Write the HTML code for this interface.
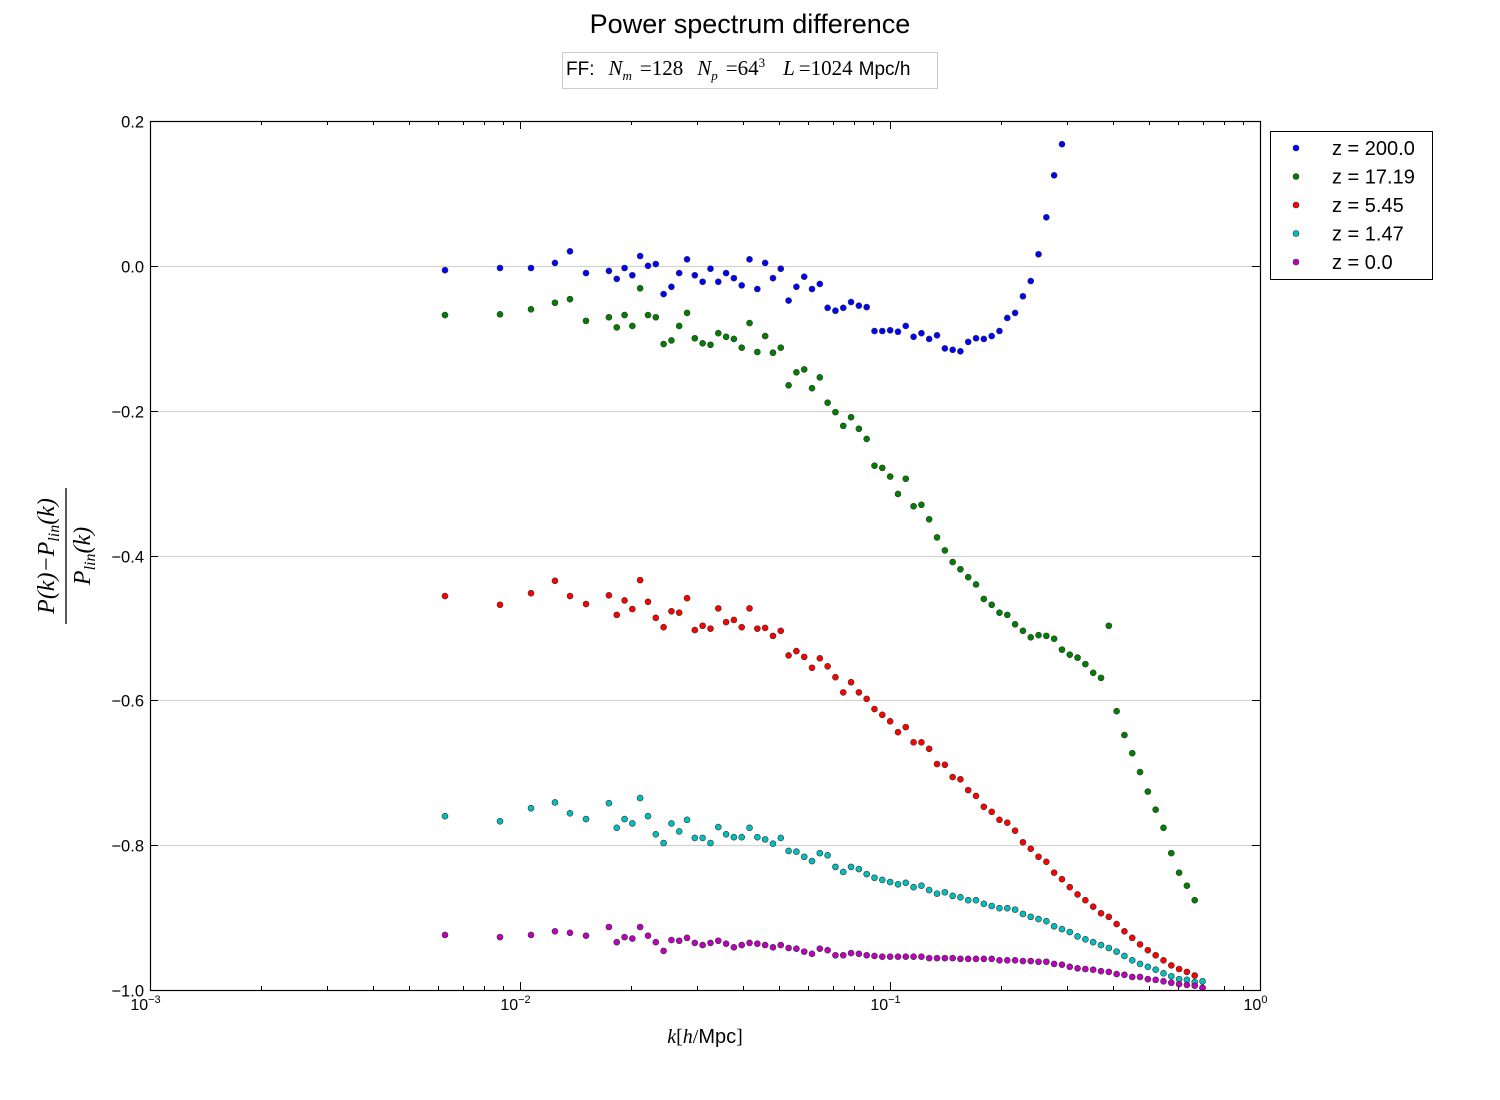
<!DOCTYPE html>
<html><head><meta charset="utf-8"><title>Power spectrum difference</title>
<style>html,body{margin:0;padding:0;background:#fff;}svg{display:block;}</style></head>
<body>
<svg id="chart" width="1500" height="1100" viewBox="0 0 1500 1100" xmlns="http://www.w3.org/2000/svg" font-family="Liberation Sans, DejaVu Sans, sans-serif">
<rect x="0" y="0" width="1500" height="1100" fill="#fff"/>
<text x="750" y="33" text-anchor="middle" font-size="27">Power spectrum difference</text>
<g>
<rect x="562.5" y="52.5" width="375" height="36" fill="#fff" stroke="#ccc"/>
<text x="566" y="75" font-size="19">FF:<tspan font-family="Liberation Serif, serif" font-style="italic" font-size="21" dx="14">N</tspan><tspan font-family="Liberation Serif, serif" font-style="italic" font-size="13" dy="5">m</tspan><tspan font-family="Liberation Serif, serif" font-size="21" dy="-5" dx="8">=128</tspan><tspan font-family="Liberation Serif, serif" font-style="italic" font-size="21" dx="14">N</tspan><tspan font-family="Liberation Serif, serif" font-style="italic" font-size="13" dy="5">p</tspan><tspan font-family="Liberation Serif, serif" font-size="21" dy="-5" dx="8">=64</tspan><tspan font-family="Liberation Serif, serif" font-size="13" dy="-8">3</tspan><tspan font-family="Liberation Serif, serif" font-style="italic" font-size="21" dy="8" dx="18">L</tspan><tspan font-family="Liberation Serif, serif" font-size="21" dx="4">=1024</tspan><tspan dx="6">Mpc/h</tspan></text>
</g>
<g id="grid"></g>
<g id="ticks"></g>
<g id="marks"></g>
<rect x="150.5" y="121.5" width="1110" height="869" fill="none" stroke="#000" stroke-width="1.2"/>
<g transform="translate(66,556) rotate(-90)" font-family="Liberation Serif, serif" font-style="italic" font-size="24">
<text x="0" y="-12" text-anchor="middle">P(k)−P<tspan font-size="16" dy="5">lin</tspan><tspan dy="-5">(k)</tspan></text>
<line x1="-68" y1="0" x2="68" y2="0" stroke="#000" stroke-width="1.3"/>
<text x="0" y="24" text-anchor="middle">P<tspan font-size="16" dy="5">lin</tspan><tspan dy="-5">(k)</tspan></text>
</g>
<text x="705" y="1043" text-anchor="middle" font-size="20"><tspan font-family="Liberation Serif, serif" font-style="italic">k</tspan><tspan font-family="Liberation Serif, serif">[</tspan><tspan font-family="Liberation Serif, serif" font-style="italic">h</tspan><tspan font-family="Liberation Serif, serif">/</tspan>Mpc<tspan font-family="Liberation Serif, serif">]</tspan></text>
<g id="legend">
<rect x="1270.5" y="131.5" width="162" height="148" fill="#fff" stroke="#000"/>
</g>
</svg>
<script>
const kBins=[0.00627,0.00883,0.01071,0.01243,0.01365,0.01508,
0.01739,0.01826,0.01917,0.02012,0.02112,0.02218,0.02328,0.02444,0.02566,0.02693,
0.02828,0.02968,0.03116,0.03272,0.03435,0.03606,0.03785,0.03974,0.04172,0.04380,
0.04598,0.04827,0.05067,0.05320,0.05585,0.05863,0.06155,0.06461,0.06783,0.07121,
0.07476,0.07848,0.08239,0.08649,0.09080,0.09532,0.1001,0.1051,0.1103,0.1158,
0.1216,0.1276,0.1340,0.1407,0.1477,0.1550,0.1627,0.1708,0.1793,0.1883,
0.1976,0.2075,0.2178,0.2287,0.2401,0.2520,0.2646,0.2777,0.2916,0.3061,
0.3213,0.3373,0.3541,0.3718,0.3903,0.4097,0.4301,0.4516,0.4740,0.4976,
0.5224,0.5485,0.5758,0.6044,0.6345,0.6661,0.6993];
const z200=[-0.006,-0.003,-0.003,0.004,0.020,-0.010,
-0.007,-0.018,-0.003,-0.013,0.0135,0.0,0.0025,-0.039,-0.029,-0.010,
0.009,-0.013,-0.022,-0.004,-0.022,-0.010,-0.017,-0.027,0.009,-0.032,
0.004,-0.017,-0.004,-0.048,-0.029,-0.015,-0.032,-0.025,-0.058,-0.062,
-0.058,-0.050,-0.055,-0.057,-0.090,-0.090,-0.089,-0.091,-0.083,-0.098,
-0.093,-0.101,-0.096,-0.114,-0.116,-0.118,-0.105,-0.100,-0.101,-0.097,
-0.090,-0.072,-0.065,-0.042,-0.021,0.016,0.067,0.125,0.168];
const z17=[-0.068,-0.067,-0.060,-0.051,-0.046,-0.076,
-0.071,-0.085,-0.068,-0.083,-0.031,-0.068,-0.071,-0.108,-0.103,-0.083,
-0.065,-0.100,-0.107,-0.109,-0.093,-0.098,-0.101,-0.113,-0.079,-0.119,
-0.097,-0.120,-0.113,-0.165,-0.147,-0.143,-0.169,-0.154,-0.189,-0.202,
-0.221,-0.209,-0.225,-0.239,-0.276,-0.279,-0.291,-0.315,-0.294,-0.332,
-0.330,-0.350,-0.375,-0.393,-0.409,-0.419,-0.430,-0.440,-0.460,-0.468,
-0.479,-0.482,-0.495,-0.504,-0.513,-0.510,-0.511,-0.515,-0.530,-0.537,
-0.541,-0.550,-0.562,-0.569,-0.497,-0.615,-0.648,-0.673,-0.699,-0.726,
-0.751,-0.776,-0.811,-0.838,-0.856,-0.876];
const z5=[-0.456,-0.468,-0.452,-0.435,-0.456,-0.467,
-0.455,-0.482,-0.462,-0.474,-0.434,-0.464,-0.486,-0.499,-0.477,-0.479,
-0.459,-0.503,-0.497,-0.501,-0.473,-0.492,-0.489,-0.499,-0.473,-0.501,
-0.500,-0.511,-0.504,-0.538,-0.532,-0.540,-0.555,-0.542,-0.553,-0.568,
-0.589,-0.575,-0.589,-0.598,-0.612,-0.620,-0.629,-0.644,-0.637,-0.658,
-0.658,-0.667,-0.688,-0.689,-0.706,-0.709,-0.724,-0.732,-0.747,-0.754,
-0.765,-0.769,-0.780,-0.796,-0.805,-0.816,-0.823,-0.838,-0.847,-0.858,
-0.868,-0.876,-0.885,-0.894,-0.899,-0.909,-0.919,-0.928,-0.937,-0.945,
-0.952,-0.959,-0.966,-0.971,-0.975,-0.980,-0.997];
const z1=[-0.760,-0.767,-0.749,-0.741,-0.756,-0.764,
-0.742,-0.776,-0.764,-0.770,-0.735,-0.760,-0.785,-0.797,-0.770,-0.781,
-0.765,-0.790,-0.790,-0.797,-0.775,-0.785,-0.789,-0.789,-0.776,-0.789,
-0.792,-0.798,-0.790,-0.808,-0.809,-0.816,-0.822,-0.811,-0.814,-0.830,
-0.837,-0.830,-0.833,-0.840,-0.845,-0.848,-0.851,-0.854,-0.852,-0.858,
-0.856,-0.862,-0.867,-0.865,-0.870,-0.872,-0.876,-0.876,-0.881,-0.884,
-0.887,-0.887,-0.889,-0.895,-0.899,-0.902,-0.905,-0.912,-0.916,-0.920,
-0.926,-0.930,-0.934,-0.938,-0.942,-0.947,-0.953,-0.959,-0.964,-0.968,
-0.972,-0.977,-0.981,-0.985,-0.986,-0.989,-0.988];
const z0=[-0.924,-0.927,-0.924,-0.919,-0.921,-0.925,
-0.913,-0.934,-0.927,-0.929,-0.913,-0.925,-0.934,-0.946,-0.931,-0.932,
-0.928,-0.935,-0.938,-0.935,-0.932,-0.936,-0.941,-0.938,-0.935,-0.936,
-0.938,-0.941,-0.938,-0.942,-0.943,-0.947,-0.950,-0.943,-0.945,-0.952,
-0.952,-0.949,-0.950,-0.952,-0.953,-0.954,-0.954,-0.954,-0.954,-0.954,
-0.954,-0.956,-0.956,-0.956,-0.956,-0.957,-0.957,-0.957,-0.957,-0.957,
-0.959,-0.959,-0.959,-0.960,-0.960,-0.961,-0.961,-0.964,-0.965,-0.968,
-0.970,-0.971,-0.972,-0.974,-0.975,-0.978,-0.979,-0.982,-0.982,-0.985,
-0.986,-0.988,-0.990,-0.992,-0.993,-0.994,-0.997];
const seriesLabels=["z = 200.0","z = 17.19","z = 5.45","z = 1.47","z = 0.0"];
const seriesColors=["#0000ff","#008000","#ff0000","#00bfbf","#bf00bf"];
const yTicks=[0.2,0.0,-0.2,-0.4,-0.6,-0.8,-1.0];
const yTickLabels=["0.2","0.0","\u22120.2","\u22120.4","\u22120.6","\u22120.8","\u22121.0"];
const xDecades=[-3,-2,-1,0];

const NS="http://www.w3.org/2000/svg";
const X0=150,X1=1260,Y0=990,Y1=121;
const xMin=-3,xMax=0,yMin=-1.0,yMax=0.2;
function xScale(k){return X0+(Math.log10(k)-xMin)/(xMax-xMin)*(X1-X0);}
function yScale(v){return Y0-(v-yMin)/(yMax-yMin)*(Y0-Y1);}
function mk(tag,attrs,parent){const e=document.createElementNS(NS,tag);for(const a in attrs)e.setAttribute(a,attrs[a]);parent.appendChild(e);return e;}

const grid=document.getElementById('grid'),ticks=document.getElementById('ticks'),marks=document.getElementById('marks'),legend=document.getElementById('legend');
yTicks.forEach((v,i)=>{
  const y=Math.round(yScale(v))+0.5;
  if(i>0&&i<yTicks.length-1){
    const g=mk('line',{x1:X0,x2:X1,y1:y,y2:y,stroke:'#d3d3d3','stroke-width':1.3},grid);
    
    
  }
  mk('line',{x1:X0,x2:X0+8,y1:y,y2:y,stroke:'#000'},ticks);
  mk('line',{x1:X1-8,x2:X1,y1:y,y2:y,stroke:'#000'},ticks);
  const t=mk('text',{x:X0-6,y:y+6,'text-anchor':'end','font-size':16.5},ticks);
  
  
  t.textContent=yTickLabels[i];
});
xDecades.forEach((d,i)=>{
  const x=Math.round(xScale(Math.pow(10,d)))+0.5;
  mk('line',{x1:x,x2:x,y1:Y0,y2:Y0-8,stroke:'#000'},ticks);
  mk('line',{x1:x,x2:x,y1:Y1,y2:Y1+8,stroke:'#000'},ticks);
  const t=mk('text',{x:x-5,y:Y0+20,'text-anchor':'middle','font-size':16},ticks);
  
  
  t.textContent='10';
  const s=mk('tspan',{'font-size':11,dy:-7},t);s.textContent=(d<0?'\u2212':'')+Math.abs(d);
  if(i<xDecades.length-1){
    for(let m=2;m<10;m++){
      const xm=Math.round(xScale(m*Math.pow(10,d)))+0.5;
      mk('line',{x1:xm,x2:xm,y1:Y0,y2:Y0-4,stroke:'#000'},ticks);
      mk('line',{x1:xm,x2:xm,y1:Y1,y2:Y1+4,stroke:'#000'},ticks);
    }
  }
});
const allSeries=[z200,z17,z5,z1,z0];
allSeries.forEach((vals,si)=>{
  const g=mk('g',{},marks);
  
  
  vals.forEach((v,i)=>{
    const c=mk('circle',{cx:xScale(kBins[i]),cy:yScale(v),r:3,fill:seriesColors[si],stroke:'#333','stroke-width':0.6},g);
    
    
  });
  const ly=148+si*28.5;
  const le=mk('g',{},legend);
  
  
  mk('circle',{cx:1296,cy:ly,r:3,fill:seriesColors[si],stroke:'#333','stroke-width':0.6},le);
  const t=mk('text',{x:1332,y:ly+7,'font-size':20},le);
  t.textContent=seriesLabels[si];
});
</script>
</body></html>
